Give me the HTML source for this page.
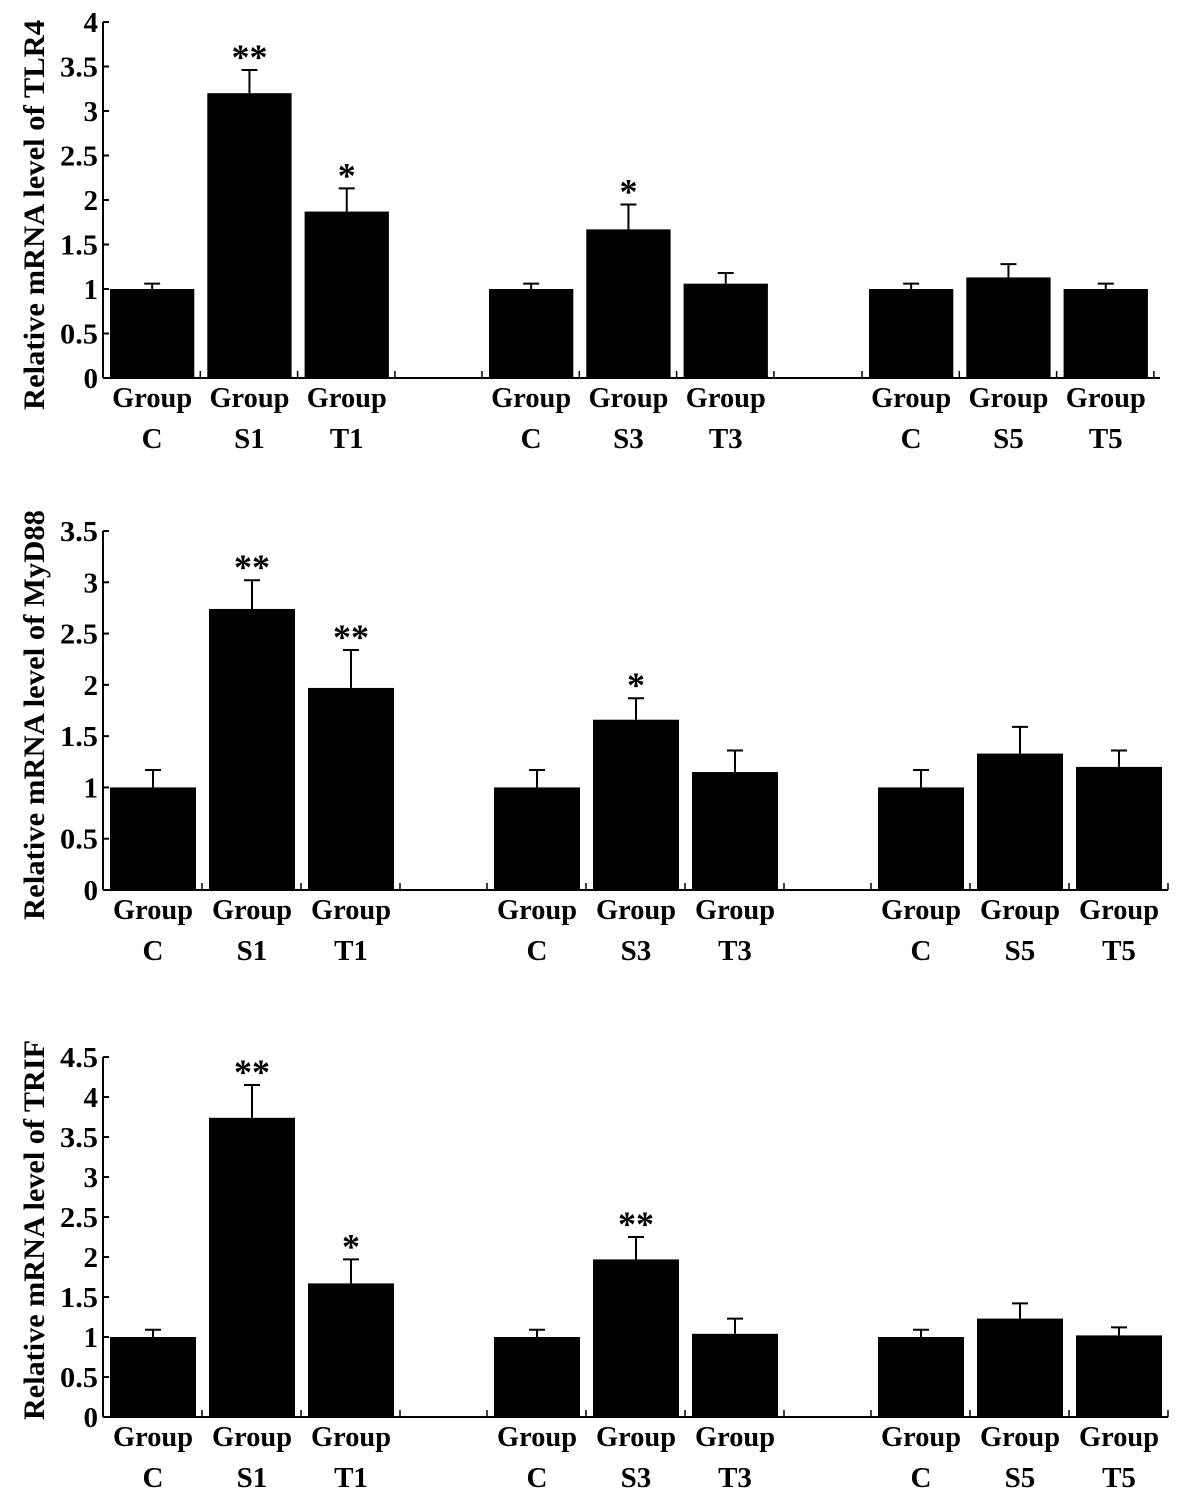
<!DOCTYPE html>
<html><head><meta charset="utf-8"><style>
body{margin:0;background:#fff}
svg text{font-family:"Liberation Serif",serif;font-weight:bold;fill:#000}
</style></head><body>
<svg id="chart" width="1181" height="1500" viewBox="0 0 1181 1500" xmlns="http://www.w3.org/2000/svg"></svg>
<script>
const groupLabels = ["C","S1","T1","C","S3","T3","C","S5","T5"];
const tlr4Values = [1.0,3.2,1.87,1.0,1.67,1.06,1.0,1.13,1.0];
const tlr4Errors = [0.06,0.26,0.26,0.06,0.28,0.12,0.06,0.15,0.06];
const tlr4Stars = ["","**","*","","*","","","",""];
const tlr4Ticks = [0,0.5,1,1.5,2,2.5,3,3.5,4];
const myd88Values = [1.0,2.74,1.97,1.0,1.66,1.15,1.0,1.33,1.2];
const myd88Errors = [0.17,0.28,0.37,0.17,0.21,0.21,0.17,0.26,0.16];
const myd88Stars = ["","**","**","","*","","","",""];
const myd88Ticks = [0,0.5,1,1.5,2,2.5,3,3.5];
const trifValues = [1.0,3.74,1.67,1.0,1.97,1.04,1.0,1.23,1.02];
const trifErrors = [0.09,0.41,0.3,0.09,0.28,0.19,0.09,0.19,0.1];
const trifStars = ["","**","*","","**","","","",""];
const trifTicks = [0,0.5,1,1.5,2,2.5,3,3.5,4,4.5];

const NS="http://www.w3.org/2000/svg";
const svg=document.getElementById('chart');
function mk(tag,attrs,parent){const e=document.createElementNS(NS,tag);for(const k in attrs)e.setAttribute(k,attrs[k]);(parent||svg).appendChild(e);return e;}

function panel(cfg){
  const g=mk('g',{});
  
  
  const y=v=>cfg.y0-(v-0)/(cfg.ymax)*(cfg.y0-cfg.ytop);
  const slotX=i=>cfg.groupStarts[Math.floor(i/3)]+(i%3)*cfg.slot;
  const ya=mk('line',{x1:cfg.ax,y1:cfg.ytop,x2:cfg.ax,y2:cfg.y0,stroke:'#000','stroke-width':2},g);
  
  
  const xa=mk('line',{x1:cfg.ax,y1:cfg.y0,x2:cfg.xend,y2:cfg.y0,stroke:'#000','stroke-width':2},g);
  
  
  cfg.ticks.forEach(t=>{
    mk('line',{x1:cfg.ax,y1:y(t),x2:cfg.ax+6,y2:y(t),stroke:'#000','stroke-width':2},g);
    const s=String(t);
    const tx=mk('text',{x:cfg.ax-5,y:y(t)+10,'text-anchor':'end','font-size':29},g);
    if(s.length===3){tx.setAttribute('textLength',38);tx.setAttribute('lengthAdjust','spacingAndGlyphs');}
    tx.textContent=s;
    
    
  });
  for(let gi=0;gi<3;gi++){
    for(let k=0;k<4;k++){
      const xx=cfg.groupStarts[gi]+k*cfg.slot;
      if(gi===0&&k===0)continue;
      mk('line',{x1:xx,y1:cfg.y0,x2:xx,y2:cfg.y0-7,stroke:'#000','stroke-width':1.5},g);
    }
  }
  cfg.values.forEach((v,i)=>{
    const x0=slotX(i)+7, w=cfg.slot-13, cx=x0+w/2;
    const b=mk('rect',{x:x0,y:y(v),width:w,height:cfg.y0-y(v),fill:'#000'},g);
    
    
    const top=y(v+cfg.errors[i]);
    const e=mk('path',{d:`M${cx},${y(v)}V${top}M${cx-8},${top}H${cx+8}`,stroke:'#000','stroke-width':2,fill:'none'},g);
    
    
    if(cfg.stars[i]){
      const s=mk('text',{x:cx,y:top-1,'text-anchor':'middle','font-size':36,'font-weight':'normal'},g);
      s.textContent=cfg.stars[i];
      
      
    }
    const l1=mk('text',{x:cx,y:cfg.y0+29,'text-anchor':'middle','font-size':29,textLength:80,lengthAdjust:'spacingAndGlyphs'},g);
    l1.textContent='Group';
    
    
    const l2=mk('text',{x:cx,y:cfg.y0+70,'text-anchor':'middle','font-size':29},g);
    l2.textContent=groupLabels[i];
    
    
  });
  const t=mk('text',{x:0,y:0,'text-anchor':'middle','font-size':30,textLength:cfg.titleLen,lengthAdjust:'spacingAndGlyphs',transform:`translate(44,${cfg.titleY}) rotate(-90)`},g);
  t.textContent=cfg.title;
  
  
}
panel({name:'tlr4-panel',values:tlr4Values,errors:tlr4Errors,stars:tlr4Stars,ticks:tlr4Ticks,ymax:4,y0:378,ytop:22,ax:103,xend:1160,groupStarts:[103,482,862],slot:97.3,title:'Relative mRNA level of TLR4',titleY:215,titleLen:390});
panel({name:'myd88-panel',values:myd88Values,errors:myd88Errors,stars:myd88Stars,ticks:myd88Ticks,ymax:3.5,y0:890,ytop:531,ax:103,xend:1168,groupStarts:[103,487,871],slot:99,title:'Relative mRNA level of MyD88',titleY:715,titleLen:410});
panel({name:'trif-panel',values:trifValues,errors:trifErrors,stars:trifStars,ticks:trifTicks,ymax:4.5,y0:1417,ytop:1057,ax:103,xend:1168,groupStarts:[103,487,871],slot:99,title:'Relative mRNA level of TRIF',titleY:1230,titleLen:380});
</script>
</body></html>
